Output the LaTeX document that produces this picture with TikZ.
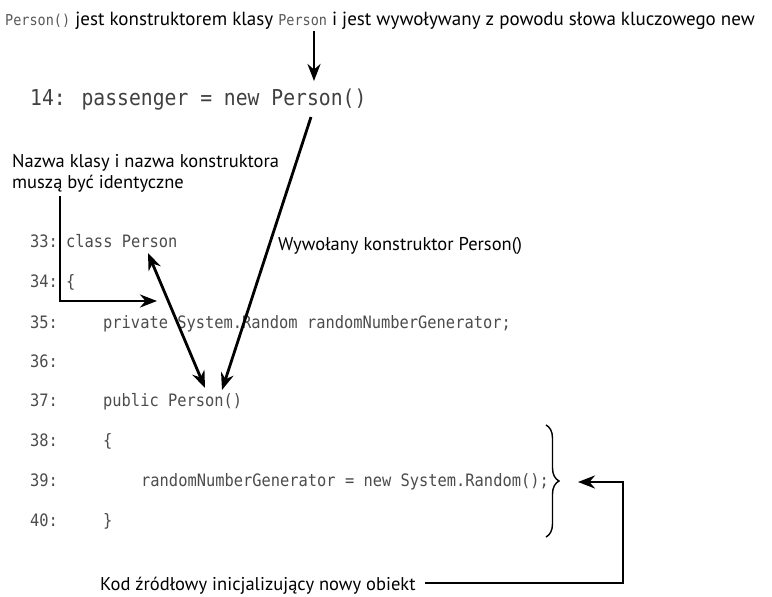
\documentclass[tikz,border=0pt]{standalone}
\usepackage{fontspec}
\setmainfont{PT Sans}
\newfontfamily\codefont[FakeStretch=0.9]{DejaVu Sans Mono}
\usetikzlibrary{arrows.meta,decorations.pathreplacing}
\begin{document}
\begin{tikzpicture}[x=1pt,y=-1pt,
  note/.style={inner sep=0pt,anchor=base west,font=\fontsize{18.5}{22}\selectfont,text=black},
  topnote/.style={inner sep=0pt,anchor=base west,font=\fontsize{19}{22}\selectfont,text=black},
  code/.style={inner sep=0pt,anchor=base west,font=\codefont\fontsize{17.1}{20}\selectfont,text=black!70},
  bigcode/.style={inner sep=0pt,anchor=base west,font=\codefont\fontsize{21.9}{26}\selectfont,text=black!75},
  tip/.style={-{Stealth[length=17pt,width=13pt]}},
  arr/.style={line width=2.8pt,tip},
  darr/.style={line width=2.8pt,{Stealth[length=17pt,width=13pt]}-{Stealth[length=17pt,width=13pt]}},
  elbow/.style={line width=2.8pt,tip}]
\useasboundingbox (0,0) rectangle (772,597);
\fill[white] (0,0) rectangle (772,597);
% top caption
\node[topnote] (top) at (5,25) {{\codefont\fontsize{15}{16}\selectfont\color{black!65}Person()} jest konstruktorem klasy {\codefont\fontsize{15}{16}\selectfont\color{black!65}Person} i jest wywoływany z powodu słowa kluczowego new};
% line 14
\node[bigcode] (l14) at (30,105) {14: passenger = new Person()};
% left note
\node[note] (n1) at (12,167) {Nazwa klasy i nazwa konstruktora};
\node[note] (n2) at (12,188) {muszą być identyczne};
% code lines
\node[code] (c33n) at (30,247) {33:};
\node[code] (c33) at (66,247) {class Person};
\node[code] (c34n) at (30,287) {34:};
\node[code] (c34) at (66,287) {\{};
\node[code] (c35n) at (30,328) {35:};
\node[code] (c35) at (103,328) {private System.Random randomNumberGenerator;};
\node[code] (c36n) at (30,367) {36:};
\node[code] (c37n) at (30,406) {37:};
\node[code] (c37) at (103,406) {public Person()};
\node[code] (c38n) at (30,446) {38:};
\node[code] (c38) at (103,446) {\{};
\node[code] (c39n) at (30,486) {39:};
\node[code] (c39) at (141,486) {randomNumberGenerator = new System.Random();};
\node[code] (c40n) at (30,526) {40:};
\node[code] (c40) at (103,526) {\}};
% right notes
\node[note] (wyw) at (278,250) {Wywołany konstruktor Person()};
\node[note] (kod) at (100,590) {Kod źródłowy inicjalizujący nowy obiekt};
% coordinates
\coordinate (a1s) at (314,31);
\coordinate (a1e) at (314,81);
\coordinate (a2s) at (311,117);
\coordinate (a2e) at (222,390);
\coordinate (ds) at (148,253);
\coordinate (de) at (205,388);
\coordinate (es) at (60,196);
\coordinate (ec) at (60,301);
\coordinate (ee) at (157,301);
\coordinate (bs) at (425,583);
\coordinate (bc) at (623,583);
\coordinate (bu) at (623,482);
\coordinate (be) at (578,482);
% arrows
\draw[arr] (a1s) -- (a1e);
\draw[arr] (a2s) -- (a2e);
\draw[darr] (ds) -- (de);
\draw[elbow] (es) -- (ec) -- (ee);
\draw[elbow] (bs) -- (bc) -- (bu) -- (be);
% brace
\draw[line width=1.4pt,decorate,decoration={brace,amplitude=13pt,aspect=0.5}] (546,425) -- (546,537);
\end{tikzpicture}
\end{document}
